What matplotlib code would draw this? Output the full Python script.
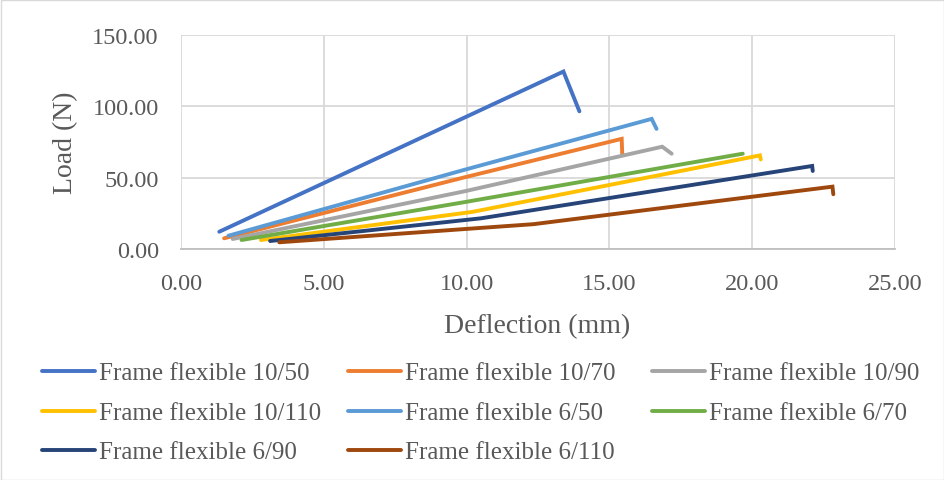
import matplotlib
matplotlib.use("Agg")
import matplotlib.pyplot as plt
from matplotlib.patches import Rectangle
from matplotlib.lines import Line2D

labels = ["Frame flexible 10/50", "Frame flexible 10/70", "Frame flexible 10/90",
          "Frame flexible 10/110", "Frame flexible 6/50", "Frame flexible 6/70",
          "Frame flexible 6/90", "Frame flexible 6/110"]
colors = ["#4472C4", "#ED7D31", "#A5A5A5", "#FFC000", "#5B9BD5", "#70AD47", "#264478", "#9E480E"]

x_10_50 = [1.34, 13.39, 13.95]
y_10_50 = [12.1, 124.4, 96.5]
x_10_70 = [1.51, 9.94, 15.43, 15.45]
y_10_70 = [7.5, 50.3, 77.2, 66.3]
x_10_90 = [1.81, 9.94, 16.85, 17.18]
y_10_90 = [7.0, 40.5, 71.7, 66.8]
x_10_110 = [2.80, 10.2, 20.27, 20.30]
y_10_110 = [6.3, 26.0, 65.6, 62.8]
x_6_50 = [1.66, 9.94, 16.48, 16.65]
y_6_50 = [9.3, 55.6, 91.2, 84.2]
x_6_70 = [2.12, 9.94, 19.67]
y_6_70 = [6.3, 32.9, 66.8]
x_6_90 = [3.12, 10.5, 22.10, 22.12]
y_6_90 = [5.6, 21.5, 58.2, 54.7]
x_6_110 = [3.44, 9.94, 12.34, 22.81, 22.84]
y_6_110 = [4.7, 14.0, 17.4, 43.7, 38.4]

xs = [x_10_50, x_10_70, x_10_90, x_10_110, x_6_50, x_6_70, x_6_90, x_6_110]
ys = [y_10_50, y_10_70, y_10_90, y_10_110, y_6_50, y_6_70, y_6_90, y_6_110]

xticks = [0, 5, 10, 15, 20, 25]
yticks = [0, 50, 100, 150]

plt.rcParams['font.family'] = ['Liberation Serif', 'DejaVu Serif']
txt = "#595959"
W, H = 944, 481

fig = plt.figure(figsize=(W/100, H/100), dpi=100)
ax = fig.add_axes([181/W, 1-250/H, (895-181)/W, (250-36)/H])

for x, y, c, l in zip(xs, ys, colors, labels):
    ax.plot(x, y, color=c, lw=2.8, label=l, solid_capstyle='round', solid_joinstyle='miter')

ax.set_xlim(0, 25)
ax.set_ylim(0, 150)
ax.set_xticks(xticks)
ax.set_yticks(yticks)
ax.set_xticklabels([f"{v:.2f}" for v in xticks])
ax.set_yticklabels([f"{v:.2f}" for v in yticks])
ax.tick_params(length=0, labelsize=17.5, colors=txt)
ax.tick_params(axis='y', pad=16)
ax.tick_params(axis='x', pad=17.5)
ax.grid(True, color="#D9D9D9", lw=1.3)
ax.set_axisbelow(True)
for s in ["top", "right", "left"]:
    ax.spines[s].set_visible(False)
ax.spines["bottom"].set_color("#BFBFBF")
ax.spines["bottom"].set_linewidth(1.3)

fig.text(66/W, 1-143/H, "Load (N)", rotation=90, ha="center", va="center", fontsize=20, color=txt)
fig.text(537/W, 1-327/H, "Deflection (mm)", ha="center", va="center", fontsize=20, color=txt)

# legend (manual layout, Excel style)
col_x = [42, 348, 652]
row_y = [372, 412, 451]
for i, (l, c) in enumerate(zip(labels, colors)):
    r, k = divmod(i, 3)
    x0 = col_x[k]
    y0 = 1 - row_y[r]/H
    fig.add_artist(Line2D([x0/W, (x0+53)/W], [y0, y0], color=c, lw=2.8,
                          solid_capstyle='round', transform=fig.transFigure))
    fig.text((x0+57)/W, y0, l, ha="left", va="center_baseline", fontsize=18, color=txt)

fig.patches.append(Rectangle((0.5/W, 0.5/H), 1-1/W, 1-1/H, transform=fig.transFigure,
                             fill=False, ec="#D9D9D9", lw=1))

fig.savefig("out.png", dpi=100)
